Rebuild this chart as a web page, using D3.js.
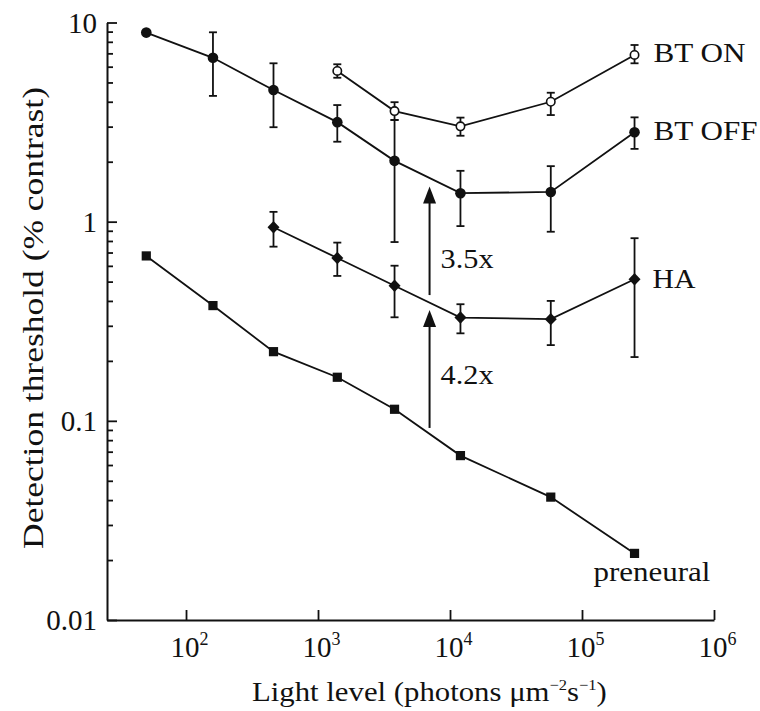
<!DOCTYPE html>
<html><head><meta charset="utf-8">
<script src="https://cdn.jsdelivr.net/npm/d3@7"></script>
<style>
body{margin:0;background:#fff}svg{display:block}
svg text{font-family:"Liberation Serif","Times New Roman",Times,Tinos,serif;}
</style>
</head><body>
<svg id="c" width="760" height="711"></svg>
<script>
// ---- data ----
const lightLevels = [50, 160, 460, 1400, 3800, 12000, 58000, 250000];
const btOff   = [8.9, 6.65, 4.58, 3.16, 2.02, 1.39, 1.41, 2.81];
const btOffLo = [null, 4.28, 2.98, 2.52, 0.79, 0.95, 0.89, 2.32];
const btOffHi = [null, 8.93, 6.24, 3.85, 3.24, 1.80, 1.90, 3.34];
const btOnLevels = [1400, 3800, 12000, 58000, 250000];
const btOn   = [5.71, 3.59, 3.01, 4.0, 6.87];
const btOnLo = [5.28, 3.24, 2.70, 3.43, 6.24];
const btOnHi = [6.17, 3.98, 3.33, 4.44, 7.71];
const haLevels = [460, 1400, 3800, 12000, 58000, 250000];
const ha   = [0.937, 0.657, 0.477, 0.330, 0.324, 0.514];
const haLo = [0.749, 0.534, 0.331, 0.275, 0.240, 0.209];
const haHi = [1.12, 0.785, 0.601, 0.385, 0.40, 0.826];
const preneural = [0.673, 0.379, 0.2225, 0.1655, 0.1143, 0.0669, 0.0414, 0.0216];
const seriesNames = ["BT ON", "BT OFF", "HA", "preneural"];
const yTicks = [0.01, 0.1, 1, 10];
const yTickLabels = ["0.01", "0.1", "1", "10"];
const xTicks = [1e2, 1e3, 1e4, 1e5, 1e6];
const xTickExp = ["2", "3", "4", "5", "6"];
const arrowX = [7000, 7000];
const arrowFrom = [0.428, 0.0921];
const arrowTo = [1.50, 0.36];
const arrowLabels = ["3.5x", "4.2x"];
const xTitle = "Light level (photons μm";
const yTitle = "Detection threshold (% contrast)";

// ---- setup ----
const svg = d3.select("#c");
const INK = "#111";
const x = d3.scaleLog().domain([25.2, 1e6]).range([107, 714]);
const y = d3.scaleLog().domain([0.01, 10]).range([620, 22.5]);

function fitWidth(sel, target) {
  const w = sel.node().getComputedTextLength();
  return target / w;
}

// ---- axes ----
const minorY = [];
[0.01, 0.1, 1].forEach(d => { for (let k = 2; k <= 9; k++) minorY.push(d * k); });

const gy = svg.append("g").attr("transform", "translate(107,0)");
gy.call(d3.axisLeft(y).tickValues(minorY).tickSizeInner(-6).tickSizeOuter(0).tickFormat(""))
  .call(g => g.select(".domain").remove());
const gyM = svg.append("g").attr("transform", "translate(107,0)");
gyM.call(d3.axisLeft(y).tickValues(yTicks).tickSizeInner(-10).tickSizeOuter(0).tickPadding(11)
  .tickFormat((d, i) => yTickLabels[i]));
[gy, gyM].forEach(g => {
  g.selectAll("line").attr("stroke", INK).attr("stroke-width", 1.8);
  g.select(".domain").attr("stroke", INK).attr("stroke-width", 2);
});
gyM.selectAll("text").attr("font-family", null).attr("font-size", 29).attr("fill", INK)
  .attr("x", -10).attr("dy", "0.34em");
gyM.attr("font-family", null);
gy.attr("font-family", null);

const gx = svg.append("g").attr("transform", "translate(0,620)");
gx.call(d3.axisBottom(x).tickValues(xTicks).tickSizeInner(-10).tickSizeOuter(0).tickFormat(""));
gx.attr("font-family", null);
gx.selectAll("line").attr("stroke", INK).attr("stroke-width", 1.8);
gx.select(".domain").attr("stroke", INK).attr("stroke-width", 2);
gx.selectAll(".tick").each(function(d, i) {
  const t = d3.select(this).append("text")
    .attr("fill", INK).attr("text-anchor", "middle")
    .attr("y", 37).attr("x", 3).attr("font-size", 29);
  t.append("tspan").text("10");
  t.append("tspan").attr("font-size", 18).attr("dy", -12).text(xTickExp[i]);
});

// axis titles
const xt = svg.append("text").attr("font-size", 28).attr("fill", INK);
xt.append("tspan").text(xTitle);
xt.append("tspan").attr("font-size", 15).attr("dy", -11).text("−2");
xt.append("tspan").attr("dy", 11).text("s");
xt.append("tspan").attr("font-size", 15).attr("dy", -11).text("−1");
xt.append("tspan").attr("dy", 11).text(")");
const sxT = fitWidth(xt, 355);
xt.attr("transform", `translate(252,701) scale(${sxT},1)`);

const yt = svg.append("text").attr("font-size", 30).attr("fill", INK)
  .attr("text-anchor", "middle").text(yTitle);
const syT = fitWidth(yt, 462);
yt.attr("transform", `translate(43,318) rotate(-90) scale(${syT},1)`);

// ---- series ----
const plot = svg.append("g");
const line = d3.line().x(d => x(d.x)).y(d => y(d.y));
function rows(xs, ys, lo, hi) {
  return xs.map((xv, i) => ({x: xv, y: ys[i], lo: lo ? lo[i] : null, hi: hi ? hi[i] : null}));
}
const sOn = rows(btOnLevels, btOn, btOnLo, btOnHi);
const sOff = rows(lightLevels, btOff, btOffLo, btOffHi);
const sHa = rows(haLevels, ha, haLo, haHi);
const sPre = rows(lightLevels, preneural);

function errBars(data) {
  const g = plot.append("g").attr("stroke", INK).attr("stroke-width", 1.8).attr("fill", "none");
  data.filter(d => d.lo != null).forEach(d => {
    const cx = x(d.x);
    g.append("line").attr("x1", cx).attr("x2", cx).attr("y1", y(d.lo)).attr("y2", y(d.hi));
    g.append("line").attr("x1", cx - 4).attr("x2", cx + 4).attr("y1", y(d.lo)).attr("y2", y(d.lo));
    g.append("line").attr("x1", cx - 4).attr("x2", cx + 4).attr("y1", y(d.hi)).attr("y2", y(d.hi));
  });
}
[sOn, sOff, sHa].forEach(errBars);
[sOn, sOff, sHa, sPre].forEach(s => {
  plot.append("path").datum(s).attr("d", line).attr("fill", "none")
    .attr("stroke", INK).attr("stroke-width", 1.8);
});

// markers
plot.append("g").selectAll("circle").data(sOff).join("circle")
  .attr("cx", d => x(d.x)).attr("cy", d => y(d.y)).attr("r", 5.3).attr("fill", INK);
plot.append("g").selectAll("circle").data(sOn).join("circle")
  .attr("cx", d => x(d.x)).attr("cy", d => y(d.y)).attr("r", 4.2)
  .attr("fill", "#fff").attr("stroke", INK).attr("stroke-width", 1.6);
plot.append("g").selectAll("path").data(sHa).join("path")
  .attr("transform", d => `translate(${x(d.x)},${y(d.y)})`)
  .attr("d", "M0,-6.2L6,0L0,6.2L-6,0Z").attr("fill", INK);
plot.append("g").selectAll("rect").data(sPre).join("rect")
  .attr("x", d => x(d.x) - 4.6).attr("y", d => y(d.y) - 4.6)
  .attr("width", 9.2).attr("height", 9.2).attr("fill", INK);

// series labels
const lastOn = sOn[sOn.length - 1], lastOff = sOff[sOff.length - 1],
      lastHa = sHa[sHa.length - 1], lastPre = sPre[sPre.length - 1];
const labelSpecs = [
  {name: seriesNames[0], px: x(lastOn.x) + 19, py: y(lastOn.y) + 7, w: 92},
  {name: seriesNames[1], px: x(lastOff.x) + 19, py: y(lastOff.y) + 8, w: 104},
  {name: seriesNames[2], px: x(lastHa.x) + 18, py: y(lastHa.y) + 9, w: 43},
  {name: seriesNames[3], px: x(lastPre.x) - 41, py: y(lastPre.y) + 28, w: 117}
];
labelSpecs.forEach(s => {
  const t = svg.append("text").attr("font-size", 28).attr("fill", INK).text(s.name);
  const k = fitWidth(t, s.w);
  t.attr("transform", `translate(${s.px},${s.py}) scale(${k},1)`);
});

// arrows
arrowX.forEach((ax, i) => {
  const cx = x(ax), y0 = y(arrowFrom[i]), y1 = y(arrowTo[i]);
  plot.append("line").attr("x1", cx).attr("x2", cx).attr("y1", y0).attr("y2", y1 + 14)
    .attr("stroke", INK).attr("stroke-width", 2);
  plot.append("path").attr("d", `M${cx},${y1}L${cx + 6.5},${y1 + 17}L${cx - 6.5},${y1 + 17}Z`).attr("fill", INK);
  const t = svg.append("text").attr("font-size", 28).attr("fill", INK).text(arrowLabels[i]);
  const k = fitWidth(t, 53);
  const ly = i === 0 ? y0 - 27 : y0 - 44;
  t.attr("transform", `translate(${cx + 11},${ly}) scale(${k},1)`);
});
</script>
</body></html>
